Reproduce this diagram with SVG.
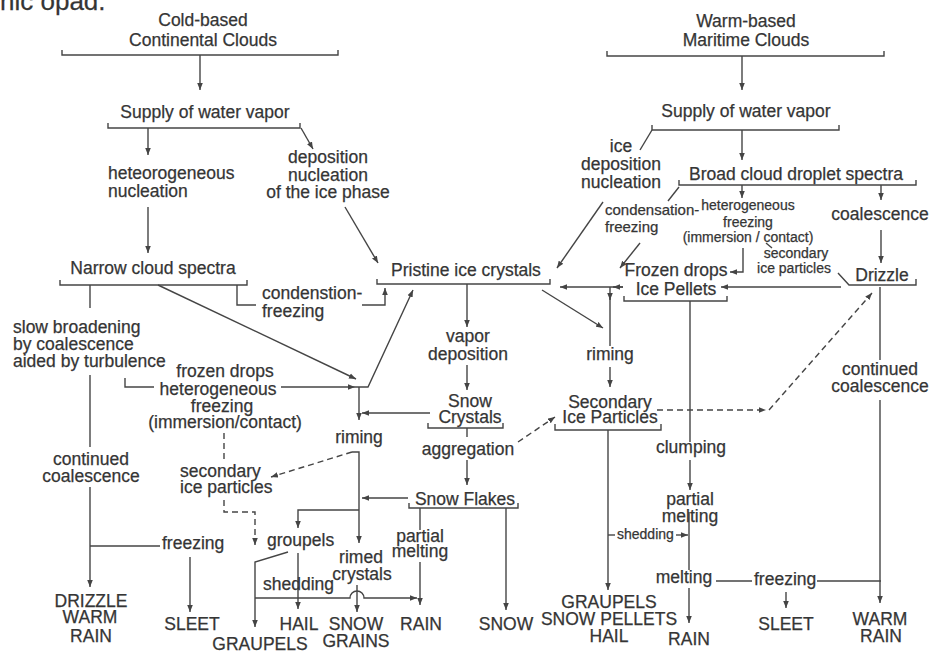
<svg xmlns="http://www.w3.org/2000/svg" width="934" height="653" viewBox="0 0 934 653">
<defs>
<marker id="a" viewBox="0 0 10 10" refX="10" refY="5" markerWidth="7" markerHeight="7" orient="auto" markerUnits="userSpaceOnUse"><path d="M0,1 L10,5 L0,9 z" fill="#444"/></marker>
<style>
text{font-family:"Liberation Sans",Arial,sans-serif;font-size:17.5px;fill:#353535;stroke:#353535;stroke-width:0.25}
.c{text-anchor:middle}
.s{font-size:14px}
.m{font-size:15px}
.ln{fill:none;stroke:#454545;stroke-width:1.4}
.ar{marker-end:url(#a)}
.d{stroke-dasharray:6 4}
</style>
</defs>
<rect width="934" height="653" fill="#fff"/>
<text x="0" y="10" style="font-size:26px">nic opad.</text>

<g id="connectors">
<path class="ln" d="M62,50 V55 H338 V50"/>
<path class="ln ar" d="M200,55 V90"/>
<path class="ln" d="M108,123 V128 H300 V123"/>
<path class="ln ar" d="M148,128 V155"/>
<path class="ln ar" d="M301,128 L313,149"/>
<path class="ln ar" d="M148,207 V253"/>
<path class="ln ar" d="M345,207 L378,263"/>
<path class="ln" d="M60,280 V285 H247 V280"/>
<path class="ln" d="M90,285 V308"/>
<path class="ln" d="M237,285 V305 H256"/>
<path class="ln ar" d="M362,305 H385 V288"/>
<path class="ln ar" d="M158,285 L356,379"/>
<path class="ln" d="M125,378 V387 H154"/>
<path class="ln ar" d="M281,387 H355"/>
<path class="ln ar" d="M355,387 H368 L413,290"/>
<path class="ln ar" d="M359,387 V420"/>
<path class="ln ar" d="M430,413 H362"/>
<path class="ln" d="M352,452 H359 V510"/>
<path class="ln ar" d="M359,510 V543"/>
<path class="ln ar d" d="M352,452 L271,477"/>
<path class="ln d" d="M224,433 V463"/>
<path class="ln ar d" d="M224,500 V512 H255 V545"/>
<path class="ln ar" d="M408,498 H362"/>
<path class="ln ar" d="M359,510 H298 V528"/>
<path class="ln ar" d="M288,552 L255,562 V627"/>
<path class="ln ar" d="M298,553 V609"/>
<path class="ln ar" d="M255,598 H350 A7,7 0 0 1 364,598 H417"/>
<path class="ln ar" d="M357,585 V612"/>
<path class="ln" d="M420,508 V530"/>
<path class="ln ar" d="M420,562 V605"/>
<path class="ln" d="M377,279 V284 H550 V279"/>
<path class="ln ar" d="M467,284 V327"/>
<path class="ln ar" d="M467,365 V390"/>
<path class="ln" d="M428,423 V428 H503 V423"/>
<path class="ln" d="M467,428 V437"/>
<path class="ln ar" d="M467,460 V485"/>
<path class="ln" d="M409,503 V508 H518 V503"/>
<path class="ln ar" d="M506,508 V610"/>
<path class="ln ar d" d="M518,442 L555,417"/>
<path class="ln" d="M90,375 V447"/>
<path class="ln ar" d="M90,487 V587"/>
<path class="ln" d="M90,546 H160"/>
<path class="ln ar" d="M190,557 V612"/>

<path class="ln" d="M607,51 V56 H884 V51"/>
<path class="ln ar" d="M742,56 V90"/>
<path class="ln" d="M652,125 V130 H839 V125"/>
<path class="ln ar" d="M742,130 V160"/>
<path class="ln" d="M652,130 L640,150"/>
<path class="ln ar" d="M603,202 L557,268"/>
<path class="ln" d="M679,180 V185 H916 V180"/>
<path class="ln" d="M679,187 L668,201"/>
<path class="ln ar" d="M640,243 L620,268"/>
<path class="ln ar" d="M742,185 V198"/>
<path class="ln ar" d="M743,248 V272 H730"/>
<path class="ln" d="M766,243 L772,248"/>
<path class="ln" d="M838,273 L849,285 H916 V279"/>
<path class="ln ar" d="M881,185 V200"/>
<path class="ln ar" d="M881,230 V263"/>
<path class="ln ar" d="M841,287 H721"/>
<path class="ln" d="M624,296 V301 H727 V296"/>
<path class="ln ar" d="M623,287 H560"/>
<path class="ln ar" d="M623,287 H613"/>
<path class="ln" d="M610,296 V346"/>
<path class="ln ar" d="M610,287 V300"/>
<path class="ln ar" d="M542,290 L603,328"/>
<path class="ln ar" d="M610,367 V387"/>
<path class="ln" d="M555,424 V430 H661 V424"/>
<path class="ln ar d" d="M657,410 H766"/>
<path class="ln ar d" d="M769,410 L872,293"/>
<path class="ln ar" d="M608,430 V590"/>
<path class="ln" d="M608,535 H615"/>
<path class="ln ar" d="M676,535 H688"/>
<path class="ln" d="M690,301 V442"/>
<path class="ln ar" d="M690,460 V490"/>
<path class="ln" d="M689,512 V570"/>
<path class="ln ar" d="M689,588 V623"/>
<path class="ln" d="M716,581 H752"/>
<path class="ln" d="M817,581 H881"/>
<path class="ln ar" d="M786,592 V608"/>
<path class="ln" d="M880,287 V360"/>
<path class="ln ar" d="M880,400 V603"/>
</g>

<g id="n-cold"><text class="c" x="203" y="26">Cold-based</text><text class="c" x="203" y="46">Continental Clouds</text></g>
<g id="n-supply-l"><text class="c" x="205" y="118">Supply of water vapor</text></g>
<g id="n-het-l"><text x="108" y="179">heteorogeneous</text><text x="108" y="197">nucleation</text></g>
<g id="n-dep-l"><text class="c" x="328" y="163">deposition</text><text class="c" x="328" y="181">nucleation</text><text class="c" x="328" y="198">of the ice phase</text></g>
<g id="n-narrow"><text class="c" x="153" y="274">Narrow cloud spectra</text></g>
<g id="n-slow"><text x="13" y="333">slow broadening</text><text x="13" y="350">by coalescence</text><text x="13" y="367">aided by turbulence</text></g>
<g id="n-cond-l"><text x="262" y="299">condenstion-</text><text x="262" y="317">freezing</text></g>
<g id="n-frozen-l"><text class="c" x="225" y="377">frozen drops</text><text class="c" x="218" y="395">heterogeneous</text><text class="c" x="222" y="412">freezing</text><text class="c" x="225" y="428">(immersion/contact)</text></g>
<g id="n-riming-l"><text class="c" x="359" y="443">riming</text></g>
<g id="n-sec-l"><text x="180" y="477">secondary</text><text x="180" y="493">ice particles</text></g>
<g id="n-groupels"><text x="267" y="546">groupels</text></g>
<g id="n-shedding-l"><text x="263" y="590">shedding</text></g>
<g id="n-rimed"><text class="c" x="361" y="563">rimed</text><text class="c" x="362" y="580">crystals</text></g>
<g id="n-partial-l"><text class="c" x="420" y="542">partial</text><text class="c" x="420" y="557">melting</text></g>
<g id="n-cont-l"><text class="c" x="91" y="465">continued</text><text class="c" x="91" y="482">coalescence</text></g>
<g id="n-freezing-l"><text x="162" y="549">freezing</text></g>
<g id="n-drizzle-warm"><text class="c" x="91" y="607">DRIZZLE</text><text class="c" x="90" y="623">WARM</text><text class="c" x="91" y="642">RAIN</text></g>
<g id="n-sleet-l"><text class="c" x="192" y="630">SLEET</text></g>
<g id="n-graupels-l"><text class="c" x="260" y="650">GRAUPELS</text></g>
<g id="n-hail"><text class="c" x="299" y="630">HAIL</text></g>
<g id="n-snowgrains"><text class="c" x="356" y="630">SNOW</text><text class="c" x="356" y="647">GRAINS</text></g>
<g id="n-rain-l"><text class="c" x="421" y="630">RAIN</text></g>

<g id="n-pristine"><text class="c" x="466" y="276">Pristine ice crystals</text></g>
<g id="n-vapor"><text class="c" x="468" y="342">vapor</text><text class="c" x="468" y="360">deposition</text></g>
<g id="n-snowcrystals"><text class="c" x="470" y="407">Snow</text><text class="c" x="470" y="423">Crystals</text></g>
<g id="n-aggregation"><text class="c" x="468" y="455">aggregation</text></g>
<g id="n-snowflakes"><text class="c" x="465" y="505">Snow Flakes</text></g>
<g id="n-snow"><text class="c" x="506" y="630">SNOW</text></g>

<g id="n-warm"><text class="c" x="746" y="27">Warm-based</text><text class="c" x="746" y="46">Maritime Clouds</text></g>
<g id="n-supply-r"><text class="c" x="746" y="117">Supply of water vapor</text></g>
<g id="n-icedep"><text class="c" x="621" y="152">ice</text><text class="c" x="621" y="170">deposition</text><text class="c" x="621" y="188">nucleation</text></g>
<g id="n-broad"><text class="c" x="796" y="180">Broad cloud droplet spectra</text></g>
<g id="n-cond-r"><text class="m" x="605" y="215">condensation-</text><text class="m" x="605" y="232">freezing</text></g>
<g id="n-het-r"><text class="c s" x="748" y="210">heterogeneous</text><text class="c s" x="748" y="227">freezing</text><text class="c s" x="748" y="242">(immersion / contact)</text></g>
<g id="n-sec-r"><text class="c s" x="796" y="258">secondary</text><text class="c s" x="794" y="273">ice particles</text></g>
<g id="n-coal-r"><text class="c" x="880" y="220">coalescence</text></g>
<g id="n-drizzle"><text class="c" x="882" y="281">Drizzle</text></g>
<g id="n-frozen-r"><text class="c" x="676" y="276">Frozen drops</text><text class="c" x="676" y="295">Ice Pellets</text></g>
<g id="n-riming-r"><text class="c" x="610" y="360">riming</text></g>
<g id="n-secice"><text class="c" x="610" y="408">Secondary</text><text class="c" x="610" y="423">Ice Particles</text></g>
<g id="n-shedding-r"><text class="s" x="617" y="539">shedding</text></g>
<g id="n-graupels-r"><text class="c" x="609" y="608">GRAUPELS</text><text class="c" x="609" y="625">SNOW PELLETS</text><text class="c" x="609" y="642">HAIL</text></g>
<g id="n-clumping"><text class="c" x="691" y="453">clumping</text></g>
<g id="n-partial-r"><text class="c" x="690" y="505">partial</text><text class="c" x="690" y="522">melting</text></g>
<g id="n-melting"><text class="c" x="684" y="583">melting</text></g>
<g id="n-freezing-r"><text x="754" y="585">freezing</text></g>
<g id="n-sleet-r"><text class="c" x="786" y="630">SLEET</text></g>
<g id="n-rain-r"><text class="c" x="689" y="645">RAIN</text></g>
<g id="n-cont-r"><text class="c" x="880" y="375">continued</text><text class="c" x="880" y="392">coalescence</text></g>
<g id="n-warmrain"><text class="c" x="880" y="625">WARM</text><text class="c" x="881" y="642">RAIN</text></g>
</svg>
